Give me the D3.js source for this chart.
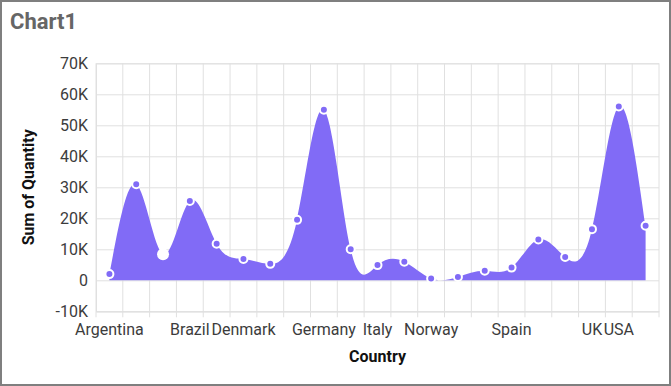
<!DOCTYPE html>
<html>
<head>
<meta charset="utf-8">
<script src="https://cdn.jsdelivr.net/npm/d3@7/dist/d3.min.js"></script>
<style>
  html, body { margin: 0; padding: 0; background: #fff; }
  svg { display: block; font-family: Roboto, "Noto Sans", sans-serif; }
</style>
</head>
<body>
<svg id="chart" width="671" height="386"></svg>
<script>
// ---- data ----
const categories = ["Argentina","Austria","Belgium","Brazil","Canada","Denmark","Finland","France","Germany","Ireland","Italy","Mexico","Norway","Poland","Portugal","Spain","Sweden","Switzerland","UK","USA","Venezuela"];
const quantities = [2000,31000,8400,25600,11800,6900,5300,19500,55000,10000,4900,6000,600,1100,3100,4100,13200,7500,16500,56100,17600];
const visibleXLabels = ["Argentina","Brazil","Denmark","Germany","Italy","Norway","Spain","UK","USA"];
const yTicks = [-10000,0,10000,20000,30000,40000,50000,60000,70000];
const highlighted = "Belgium";
const chartTitle = "Chart1";
const xTitle = "Country";
const yTitle = "Sum of Quantity";

// ---- layout ----
const W = 671, H = 386;
const plot = { left: 96, right: 659, top: 63.3, bottom: 311.3 };
const color = "#816bf6";

const svg = d3.select("#chart");

// frame
svg.append("rect").attr("x", 1).attr("y", 1).attr("width", W - 2).attr("height", H - 2)
  .attr("fill", "#fff").attr("stroke", "#7f7f7f").attr("stroke-width", 2);

const x = d3.scaleBand().domain(categories).range([plot.left, plot.right]).padding(0);
const y = d3.scaleLinear().domain([d3.min(yTicks), d3.max(yTicks)]).range([plot.bottom, plot.top]);

// vertical gridlines at band boundaries (with ticks below axis)
const bounds = categories.map(c => x(c)).concat([x.range()[1]]);
svg.append("g").selectAll("line").data(bounds).join("line")
  .attr("x1", d => d).attr("x2", d => d)
  .attr("y1", plot.top).attr("y2", plot.bottom + 6)
  .attr("stroke", "#e0e0e0").attr("stroke-width", 1);

// y axis with horizontal grid
const yAxis = d3.axisLeft(y).tickValues(yTicks)
  .tickSize(-(plot.right - plot.left))
  .tickPadding(8)
  .tickFormat(d => d === 0 ? "0" : (d / 1000) + "K");
const gy = svg.append("g").attr("transform", `translate(${plot.left},0)`).call(yAxis);
gy.select(".domain").attr("stroke", "#e0e0e0");
gy.selectAll(".tick line").attr("stroke", "#e0e0e0");
gy.selectAll(".tick text").attr("fill", "#3c3c3c").style("font-size", "16px")
  .style("font-family", "Roboto, sans-serif");

// x axis labels
const xAxis = d3.axisBottom(x).tickSize(0).tickPadding(12)
  .tickFormat(d => visibleXLabels.includes(d) ? d : "");
const gx = svg.append("g").attr("transform", `translate(0,${plot.bottom})`).call(xAxis);
gx.select(".domain").attr("stroke", "#e0e0e0");
gx.selectAll(".tick text").attr("fill", "#3c3c3c").style("font-size", "16px")
  .style("font-family", "Roboto, sans-serif");

// spline area
const data = categories.map((c, i) => ({ c, v: quantities[i] }));
const cx = d => x(d.c) + x.bandwidth() / 2;
const area = d3.area().curve(d3.curveNatural)
  .x(cx).y0(y(0)).y1(d => y(d.v));
svg.append("path").datum(data).attr("d", area).attr("fill", color);

// markers
svg.append("g").selectAll("circle").data(data).join("circle")
  .attr("cx", cx).attr("cy", d => y(d.v))
  .attr("r", d => d.c === highlighted ? 6 : 4)
  .attr("fill", d => d.c === highlighted ? "#fff" : color)
  .attr("stroke", "#fff")
  .attr("stroke-width", d => d.c === highlighted ? 0 : 2);

// titles
svg.append("text").attr("x", 10).attr("y", 29)
  .attr("fill", "#666").style("font-size", "22px").style("font-weight", "bold")
  .text(chartTitle);

svg.append("text").attr("x", (plot.left + plot.right) / 2).attr("y", 362)
  .attr("text-anchor", "middle").attr("fill", "#111")
  .style("font-size", "16px").style("font-weight", "bold").text(xTitle);

svg.append("text")
  .attr("transform", `translate(34,${(plot.top + plot.bottom) / 2}) rotate(-90)`)
  .attr("text-anchor", "middle").attr("fill", "#111")
  .style("font-size", "16px").style("font-weight", "bold").text(yTitle);
</script>
</body>
</html>
